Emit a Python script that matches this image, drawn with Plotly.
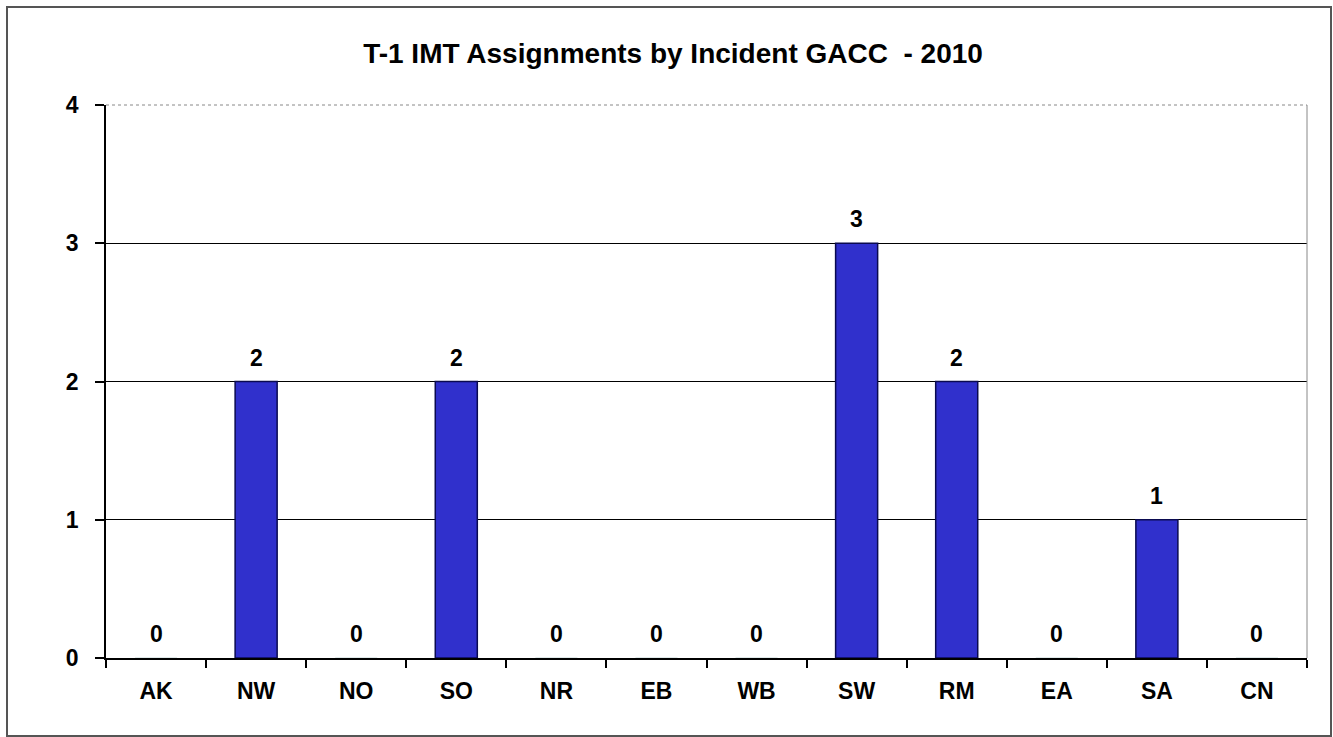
import plotly.graph_objects as go

categories = ["AK", "NW", "NO", "SO", "NR", "EB", "WB", "SW", "RM", "EA", "SA", "CN"]
values = [0, 2, 0, 2, 0, 0, 0, 3, 2, 0, 1, 0]
y_ticks = [0, 1, 2, 3, 4]
title = "T-1 IMT Assignments by Incident GACC&nbsp; - 2010"

font_fam = "Liberation Sans, Arial, sans-serif"

line_colors = ["#0a0a50" if v > 0 else "#d8e4e4" for v in values]

fig = go.Figure()
fig.add_trace(go.Bar(
    x=categories, y=values,
    width=0.42,
    marker=dict(color="#3030cc", line=dict(color=line_colors, width=1.5)),
    hoverinfo="x+y",
))
# value labels above bars
for c, v in zip(categories, values):
    fig.add_annotation(x=c, y=v, text="<b>%d</b>" % v, showarrow=False,
                       yanchor="bottom", yshift=9,
                       font=dict(family=font_fam, size=23, color="#000000"))

fig.update_layout(
    width=1333, height=737,
    margin=dict(l=106, r=26, t=105, b=79),
    paper_bgcolor="white", plot_bgcolor="white",
    showlegend=False,
    title=dict(text="<b>" + title + "</b>", x=(673 - 106) / 1201, xref="paper", xanchor="center",
               y=(737 - 53) / 737, yanchor="middle",
               font=dict(family=font_fam, size=28, color="#000000")),
    xaxis=dict(
        type="category", range=[-0.5, len(categories) - 0.5],
        showline=True, linecolor="#000000", linewidth=1.5,
        ticks="outside", tickson="boundaries", ticklen=8, tickcolor="#000000", tickwidth=1.5,
        tickfont=dict(family=font_fam, size=23, color="#000000"),
        tickprefix="<b>", ticksuffix="</b>",
        ticklabelstandoff=12,
        showgrid=False,
    ),
    yaxis=dict(
        range=[0, 4], tickvals=y_ticks, ticktext=["<b>%d</b>" % t for t in y_ticks],
        showline=True, linecolor="#000000", linewidth=1.5,
        ticks="outside", ticklen=9, tickcolor="#000000", tickwidth=1.5,
        tickfont=dict(family=font_fam, size=23, color="#000000"),
        showgrid=True, gridcolor="#000000", gridwidth=1,
        zeroline=False,
        ticklabelstandoff=12,
    ),
)

# top dotted gray line and right gray line of plot area
fig.add_shape(type="line", xref="paper", yref="paper", x0=0, x1=1, y0=1, y1=1,
              line=dict(color="#888888", width=1, dash="dot"))
fig.add_shape(type="line", xref="paper", yref="paper", x0=1, x1=1, y0=0, y1=1,
              line=dict(color="#888888", width=1))
# outer chart frame
fig.add_shape(type="rect", xref="paper", yref="paper",
              x0=(7 - 106) / 1201, x1=(1331 - 106) / 1201,
              y0=(658 - 736) / 553, y1=(658 - 7) / 553,
              line=dict(color="#555555", width=2), layer="below")

fig.write_html("out.html", config={"displayModeBar": False},
               post_script="document.body.style.margin='0';document.body.style.overflow='hidden';")
